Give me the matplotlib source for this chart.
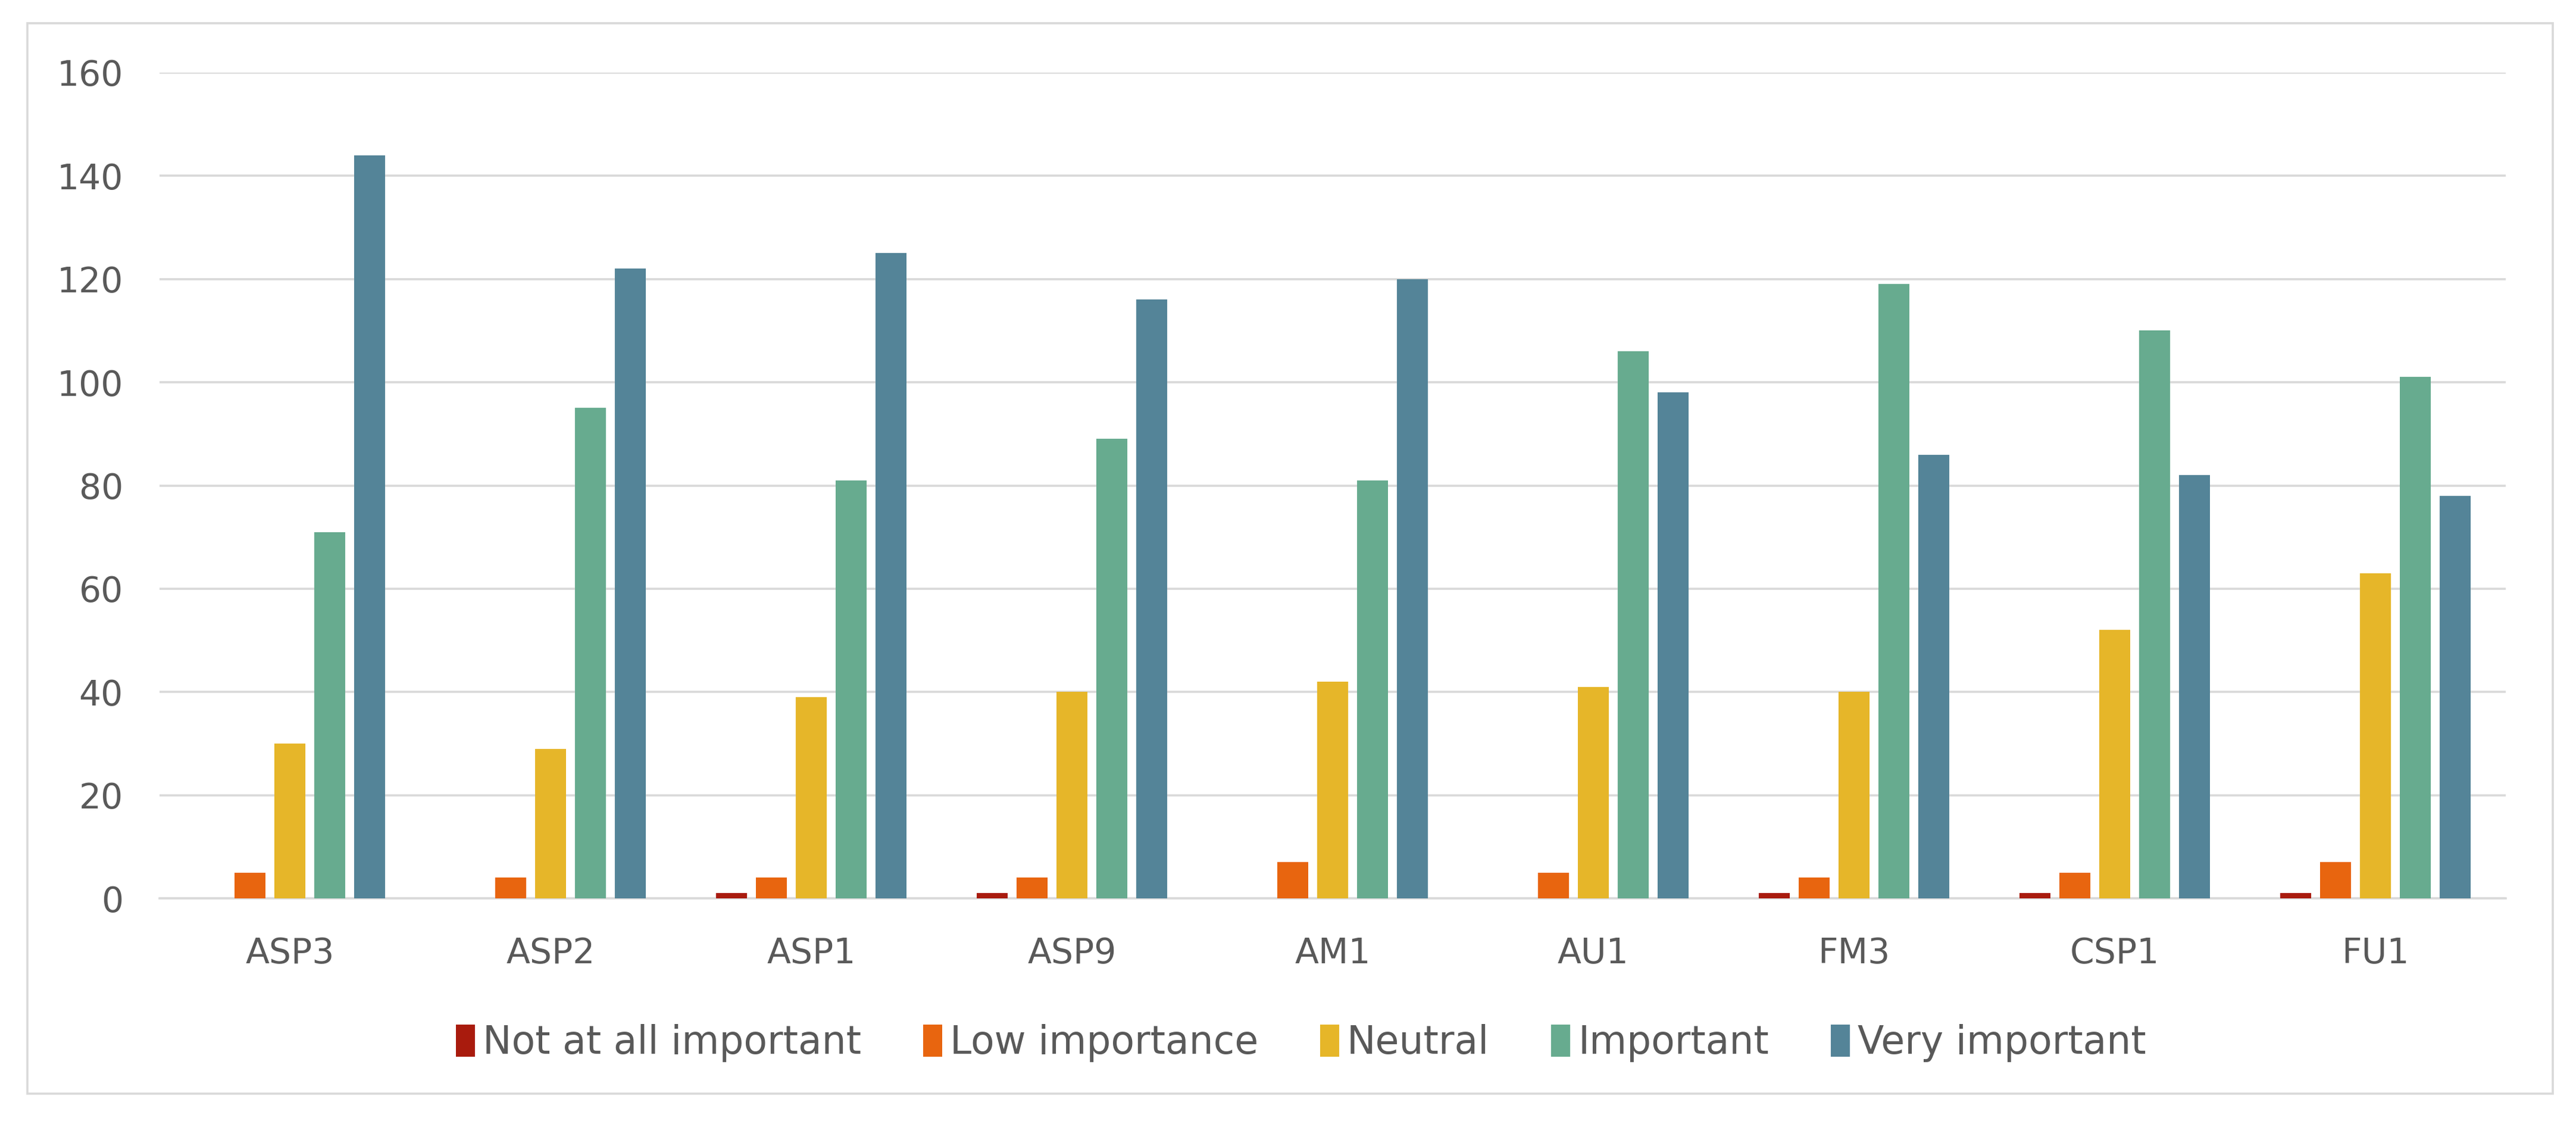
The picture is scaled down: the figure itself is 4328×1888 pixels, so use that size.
import matplotlib
matplotlib.use("Agg")
import matplotlib.pyplot as plt
from matplotlib.patches import Rectangle
import numpy as np

categories = ["ASP3", "ASP2", "ASP1", "ASP9", "AM1", "AU1", "FM3", "CSP1", "FU1"]
series_names = ["Not at all important", "Low importance", "Neutral", "Important", "Very important"]
not_at_all = [0, 0, 1, 1, 0, 0, 1, 1, 1]
low = [5, 4, 4, 4, 7, 5, 4, 5, 7]
neutral = [30, 29, 39, 40, 42, 41, 40, 52, 63]
important = [71, 95, 81, 89, 81, 106, 119, 110, 101]
very = [144, 122, 125, 116, 120, 98, 86, 82, 78]
colors = ["#A91B0D", "#E8650F", "#E6B629", "#67AB8F", "#548498"]
yticks = [0, 20, 40, 60, 80, 100, 120, 140, 160]

plt.rcParams['font.family'] = ['DejaVu Sans']
text_color = "#595959"
grid_color = "#D9D9D9"

fig = plt.figure(figsize=(21.64, 9.44), dpi=200)
ax = fig.add_axes([0.0619, 0.2007, 0.9108, 0.7347])

x = np.arange(len(categories))
slot = 0.153
width = 0.119
all_series = [not_at_all, low, neutral, important, very]
for i, (vals, name, c) in enumerate(zip(all_series, series_names, colors)):
    ax.bar(x + (i - 2) * slot, vals, width=width, color=c, label=name, zorder=3)

ax.set_xlim(-0.5, len(categories) - 0.5)
ax.set_ylim(0, 160)
ax.set_yticks(yticks)
ax.set_yticklabels([str(v) for v in yticks])
ax.set_xticks(x)
ax.set_xticklabels(categories)
ax.yaxis.grid(True, color=grid_color, linewidth=1.3, zorder=0)
ax.tick_params(axis='both', length=0, labelsize=21, colors=text_color)
ax.tick_params(axis='y', pad=22)
ax.tick_params(axis='x', pad=23)
for s in ["top", "right", "left"]:
    ax.spines[s].set_visible(False)
ax.spines["bottom"].set_color(grid_color)
ax.spines["bottom"].set_linewidth(1.3)

leg = fig.legend(loc="center", bbox_to_anchor=(0.505, 0.072), ncol=5, frameon=False,
                 prop={'size': 23.3}, handlelength=0.5, handleheight=0.9, handletextpad=0.2,
                 columnspacing=1.6)
for t in leg.get_texts():
    t.set_color(text_color)

fig.patches.append(Rectangle((46 / 4328, 1 - 1837 / 1888), (4289 - 46) / 4328, (1837 - 39) / 1888,
                             transform=fig.transFigure, fill=False, edgecolor=grid_color,
                             linewidth=1.3, zorder=0))

fig.savefig("out.png", dpi=200, facecolor="white")
